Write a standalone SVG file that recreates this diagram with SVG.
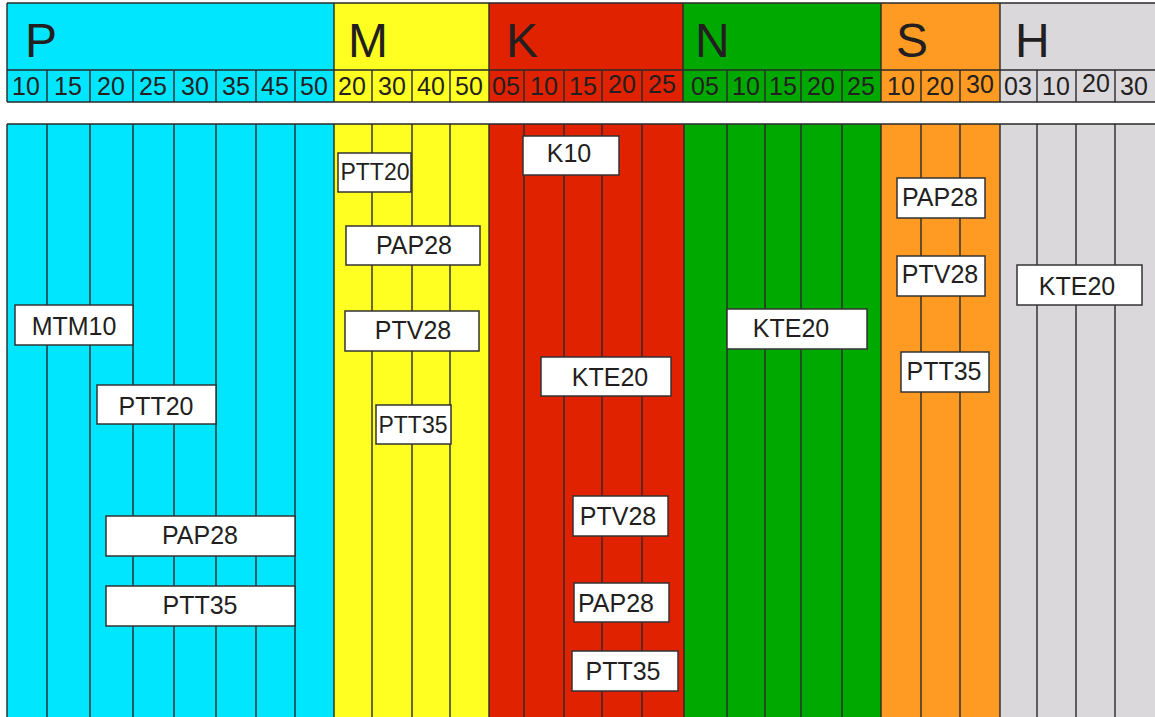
<svg xmlns="http://www.w3.org/2000/svg" width="1155" height="717" viewBox="0 0 1155 717">
<style>
.ln{stroke:#2a2a2a;stroke-width:1.4;fill:none}
.hd{font-family:"Liberation Sans",Arial,sans-serif;font-size:48px;fill:#231f20}
.nm{font-family:"Liberation Sans",Arial,sans-serif;font-size:25px;fill:#231f20;text-anchor:middle}
.bx{fill:#ffffff;stroke:#333333;stroke-width:1.5}
.lb{font-family:"Liberation Sans",Arial,sans-serif;font-size:25px;fill:#231f20;text-anchor:middle}
.sm{font-size:23px}
.cP{fill:#00e6ff}.cM{fill:#ffff22}.cK{fill:#e02200}.cN{fill:#00a900}.cS{fill:#ff9a22}.cH{fill:#dad8da}
</style>
<rect width="1155" height="717" fill="#ffffff"/>
<g id="header">
<rect class="cP" x="7" y="3" width="327" height="99"/>
<rect class="cM" x="334" y="3" width="155" height="99"/>
<rect class="cK" x="489" y="3" width="194" height="99"/>
<rect class="cN" x="683" y="3" width="198" height="99"/>
<rect class="cS" x="881" y="3" width="119" height="99"/>
<rect class="cH" x="1000" y="3" width="156" height="99"/>
<path class="ln" d="M7 3H1155M7 70H1155M7 102H1155M7 3V102M334 3V102M489 3V102M683 3V102M881 3V102M1000 3V102"/>
<path class="ln" d="M47 70V102M90 70V102M133 70V102M174 70V102M216 70V102M256 70V102M295 70V102M372 70V102M412 70V102M450 70V102M524 70V102M564 70V102M602 70V102M642 70V102M727 70V102M765 70V102M801 70V102M842 70V102M921 70V102M960 70V102M1037 70V102M1076 70V102M1115 70V102"/>
<text class="hd" x="25" y="57">P</text>
<text class="hd" x="348" y="57">M</text>
<text class="hd" x="506" y="57">K</text>
<text class="hd" x="695" y="57">N</text>
<text class="hd" x="896" y="57">S</text>
<text class="hd" x="1015" y="57">H</text>
<g>
<text class="nm" x="26" y="95">10</text>
<text class="nm" x="68" y="95">15</text>
<text class="nm" x="111" y="95">20</text>
<text class="nm" x="153" y="95">25</text>
<text class="nm" x="195" y="95">30</text>
<text class="nm" x="236" y="95">35</text>
<text class="nm" x="275" y="95">45</text>
<text class="nm" x="314" y="95">50</text>
<text class="nm" x="352" y="95">20</text>
<text class="nm" x="392" y="95">30</text>
<text class="nm" x="431" y="95">40</text>
<text class="nm" x="469" y="95">50</text>
<text class="nm" x="506" y="95">05</text>
<text class="nm" x="544" y="95">10</text>
<text class="nm" x="583" y="95">15</text>
<text class="nm" x="622" y="93">20</text>
<text class="nm" x="662" y="93">25</text>
<text class="nm" x="705" y="95">05</text>
<text class="nm" x="746" y="95">10</text>
<text class="nm" x="783" y="95">15</text>
<text class="nm" x="821" y="95">20</text>
<text class="nm" x="861" y="95">25</text>
<text class="nm" x="901" y="95">10</text>
<text class="nm" x="940" y="95">20</text>
<text class="nm" x="980" y="93">30</text>
<text class="nm" x="1018" y="95">03</text>
<text class="nm" x="1056" y="95">10</text>
<text class="nm" x="1096" y="92">20</text>
<text class="nm" x="1134" y="95">30</text>
</g>
</g>
<g id="body">
<rect class="cP" x="7" y="124" width="327" height="600"/>
<rect class="cM" x="334" y="124" width="155" height="600"/>
<rect class="cK" x="489" y="124" width="195" height="600"/>
<rect class="cN" x="684" y="124" width="197" height="600"/>
<rect class="cS" x="881" y="124" width="119" height="600"/>
<rect class="cH" x="1000" y="124" width="156" height="600"/>
<path class="ln" d="M7 124H1155M7 124V717M47 124V717M90 124V717M133 124V717M174 124V717M216 124V717M256 124V717M295 124V717M334 124V717M372 124V717M412 124V717M450 124V717M489 124V717M524 124V717M564 124V717M602 124V717M642 124V717M684 124V717M727 124V717M765 124V717M801 124V717M842 124V717M881 124V717M921 124V717M960 124V717M1000 124V717M1037 124V717M1076 124V717M1115 124V717"/>
</g>
<g id="p-mtm10"><rect class="bx" x="15" y="305" width="118" height="40"/><text class="lb" x="74" y="335">MTM10</text></g>
<g id="p-ptt20"><rect class="bx" x="97" y="385" width="119" height="39"/><text class="lb" x="156" y="415">PTT20</text></g>
<g id="p-pap28"><rect class="bx" x="106" y="516" width="189" height="40"/><text class="lb" x="200" y="544">PAP28</text></g>
<g id="p-ptt35"><rect class="bx" x="106" y="586" width="189" height="40"/><text class="lb" x="200" y="614">PTT35</text></g>
<g id="m-ptt20"><rect class="bx" x="338" y="153" width="73" height="39"/><text class="lb sm" x="375" y="180">PTT20</text></g>
<g id="m-pap28"><rect class="bx" x="346" y="226" width="134" height="39"/><text class="lb" x="414" y="254">PAP28</text></g>
<g id="m-ptv28"><rect class="bx" x="345" y="311" width="134" height="40"/><text class="lb" x="413" y="339">PTV28</text></g>
<g id="m-ptt35"><rect class="bx" x="376" y="405" width="75" height="39"/><text class="lb sm" x="413" y="433">PTT35</text></g>
<g id="k-k10"><rect class="bx" x="523" y="136" width="96" height="39"/><text class="lb" x="569" y="162">K10</text></g>
<g id="k-kte20"><rect class="bx" x="541" y="357" width="130" height="39"/><text class="lb" x="610" y="386">KTE20</text></g>
<g id="k-ptv28"><rect class="bx" x="573" y="496" width="95" height="40"/><text class="lb" x="618" y="525">PTV28</text></g>
<g id="k-pap28"><rect class="bx" x="574" y="583" width="95" height="39"/><text class="lb" x="616" y="612">PAP28</text></g>
<g id="k-ptt35"><rect class="bx" x="572" y="651" width="106" height="40"/><text class="lb" x="623" y="680">PTT35</text></g>
<g id="n-kte20"><rect class="bx" x="727" y="309" width="140" height="40"/><text class="lb" x="791" y="337">KTE20</text></g>
<g id="s-pap28"><rect class="bx" x="897" y="178" width="88" height="40"/><text class="lb" x="940" y="206">PAP28</text></g>
<g id="s-ptv28"><rect class="bx" x="897" y="256" width="88" height="40"/><text class="lb" x="940" y="283">PTV28</text></g>
<g id="s-ptt35"><rect class="bx" x="901" y="352" width="88" height="40"/><text class="lb" x="944" y="380">PTT35</text></g>
<g id="h-kte20"><rect class="bx" x="1017" y="265" width="125" height="40"/><text class="lb" x="1077" y="295">KTE20</text></g>
</svg>
